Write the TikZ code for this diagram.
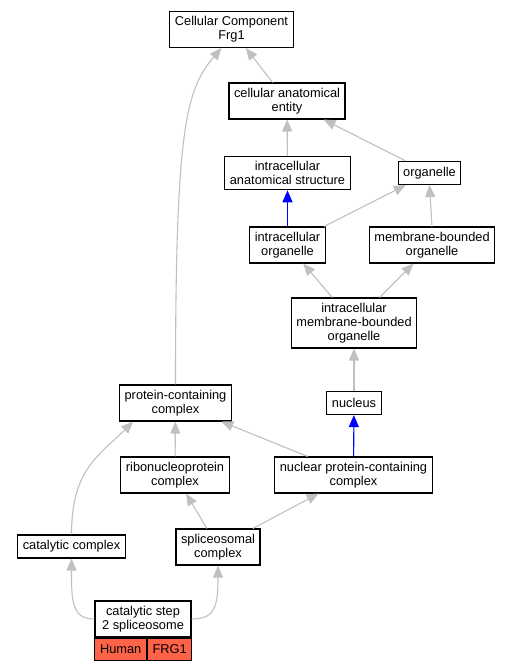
\documentclass[tikz,border=0pt]{standalone}
\usepackage{fontspec}
\setmainfont{Liberation Sans}
\usetikzlibrary{arrows.meta,calc}
\definecolor{isagray}{RGB}{192,192,192}
\definecolor{taxon}{RGB}{255,99,71}
\begin{document}
\begin{tikzpicture}[x=1pt,y=-1pt,
    term/.style={draw,line width=1.1pt,align=center,inner xsep=5pt,inner ysep=5pt,
        minimum height=23pt,font=\fontsize{12.8}{14}\selectfont},
    cell/.style={term,fill=taxon,line width=1pt,minimum height=22pt,inner ysep=2pt,inner xsep=2pt,anchor=north west},
    isa/.style={draw=isagray,line width=1.1pt,-{Triangle[length=12pt,width=10pt]}},
    partof/.style={isa,draw=blue}]
    \useasboundingbox (0,0) rectangle (509,669);
    \node[term] (ccf) at (231.5,29.5) {Cellular Component\\Frg1};
    \node[term] (cae) at (287,101) {cellular anatomical\\entity};
    \node[term] (ias) at (287.5,173) {intracellular\\anatomical structure};
    \node[term] (org) at (429.5,173) {organelle};
    \node[term] (io) at (287.5,245) {intracellular\\organelle};
    \node[term] (mbo) at (432,245) {membrane-bounded\\organelle};
    \node[term] (imbo) at (354,323) {intracellular\\membrane-bounded\\organelle};
    \node[term] (nuc) at (354,403) {nucleus};
    \node[term] (pcc) at (175.5,403) {protein-containing\\complex};
    \node[term] (rnp) at (175,475) {ribonucleoprotein\\complex};
    \node[term] (npcc) at (353.5,475) {nuclear protein-containing\\complex};
    \node[term] (cat) at (71.5,546.5) {catalytic complex};
    \node[term] (sc) at (218,547) {spliceosomal\\complex};
    \node[term,minimum width=96pt,minimum height=36pt] (cs2) at (143,619) {catalytic step\\2 spliceosome};
    \node[cell,minimum width=51.5pt] (human) at (cs2.south west) {Human};
    \node[cell,minimum width=44.5pt] (frg1) at (human.north east) {FRG1};
    \draw[isa] (cae) -- (ccf);
    \draw[isa] (pcc.north) .. controls +(0,-255) and +(-36,42) .. ($(ccf.south)+(-10,0)$);
    \draw[isa] (ias) -- (cae);
    \draw[isa] (org) -- (cae);
    \draw[partof] (io) -- (ias);
    \draw[isa] (io) -- (org);
    \draw[isa] (mbo.north) -- (org.south);
    \draw[isa] (imbo) -- (io);
    \draw[isa] (imbo) -- (mbo);
    \draw[isa] (nuc) -- (imbo);
    \draw[partof] (npcc) -- (nuc);
    \draw[isa] (npcc) -- (pcc);
    \draw[isa] (rnp) -- (pcc);
    \draw[isa] (cat.north) .. controls +(0,-65) and +(-34,34) .. ($(pcc.south west)+(14,0)$);
    \draw[isa] (sc) -- (rnp);
    \draw[isa] (sc) -- (npcc);
    \draw[isa] (cs2.west) .. controls +(-23,0) and +(0,42) .. (cat.south);
    \draw[isa] (cs2.east) .. controls +(23,0) and +(0,42) .. (sc.south);
\end{tikzpicture}
\end{document}
